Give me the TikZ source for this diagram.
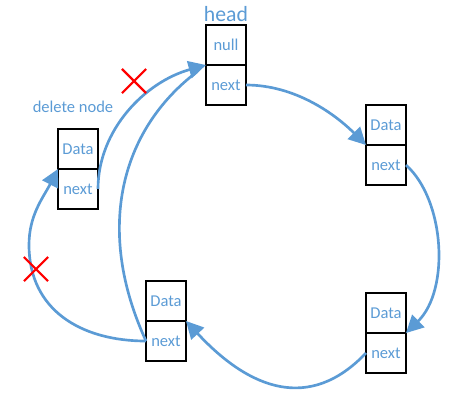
\documentclass[tikz,border=0pt]{standalone}
\usepackage{fontspec}
\setmainfont{Carlito}
\usetikzlibrary{positioning,arrows.meta,shapes.misc}
\definecolor{linkblue}{RGB}{91,155,213}

\begin{document}
\begin{tikzpicture}[x=0.75pt,y=-0.75pt,
		cell/.style={draw,line width=0.9pt,minimum width=30pt,minimum height=30pt,inner sep=0pt,outer sep=0pt,text=linkblue,font=\fontsize{12.4}{14}\selectfont},
		link/.style={draw=linkblue,line width=2pt},
		pointed/.style={-{Triangle[length=13pt,width=13pt]}},
		cut/.style={cross out,draw=red,line width=1.6pt,minimum size=16.5pt,inner sep=0pt}]
				\useasboundingbox (0,0) rectangle (470,401);
				% head
				\node[cell] (hnull) at (226,45) {null};
				\node[cell,below=0pt of hnull] (hnext) {next};
				\node[above=0pt of hnull,inner sep=2pt,text=linkblue,font=\fontsize{16.3}{19}\selectfont] (hlbl) {head};
				% the other nodes of the ring
				\node[cell] (adata) at (386,125) {Data};
				\node[cell,below=0pt of adata] (anext) {next};
				\node[cell] (bdata) at (386,313) {Data};
				\node[cell,below=0pt of bdata] (bnext) {next};
				\node[cell] (cdata) at (166,301) {Data};
				\node[cell,below=0pt of cdata] (cnext) {next};
				% the node to delete
				\node[cell] (ddata) at (78,149) {Data};
				\node[cell,below=0pt of ddata] (dnext) {next};
				\node[anchor=base,text=linkblue,font=\fontsize{12.4}{14}\selectfont] (dlbl) at (73,112) {delete node};
				% links
				\draw[link,pointed] (hnext.east) .. controls +(50,0) and +(-30,-30) .. (adata.south west);
				\draw[link,pointed] (anext.east) .. controls (445,200) and (450,290) .. (bdata.south east);
				\draw[link,pointed] (bnext.west) .. controls (310,412) and (250,390) .. (cnext.north east);
				\draw[link,pointed] (cnext.west) .. controls +(-65,0) and +(0,65) .. (29,245)
					.. controls +(0,-30) and +(-15,29) .. (dnext.north west);
				\draw[link,shorten >=8pt] (cnext.west) .. controls (95,230) and (120,130) .. (hnull.south west);
				\draw[link,pointed] (dnext.east) .. controls (98,130) and (145,82) .. (hnull.south west);
				% removed links
				\node[cut] (cut1) at (134,81) {};
				\node[cut] (cut2) at (36,269) {};
			\end{tikzpicture}
\end{document}
